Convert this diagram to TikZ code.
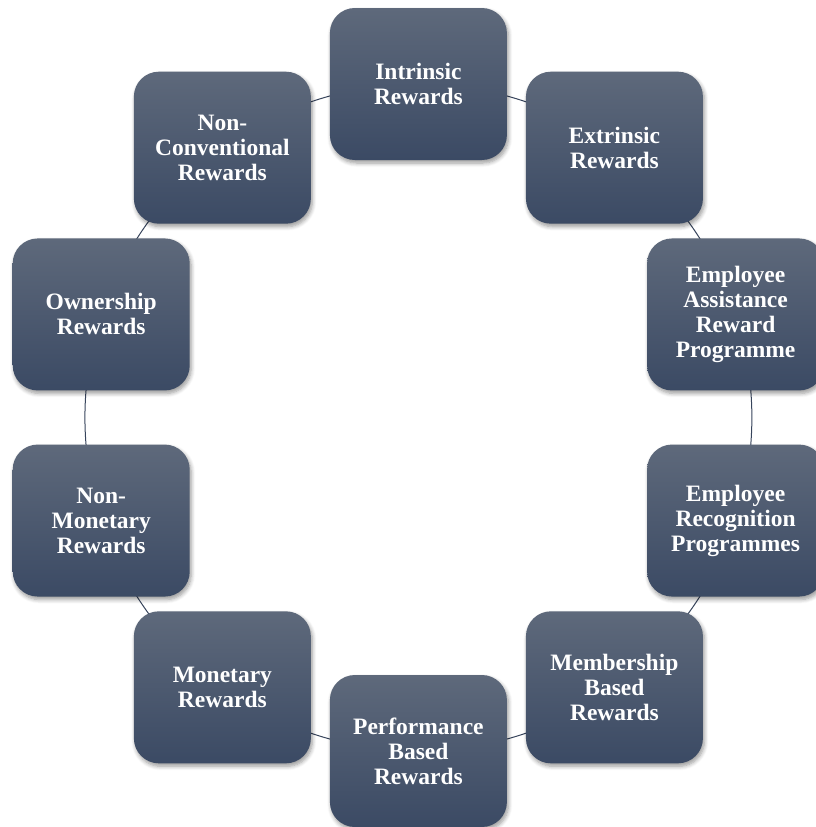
\documentclass[tikz,border=0pt]{standalone}
\usepackage{fontspec}
\setmainfont{Liberation Serif}
\usetikzlibrary{shadows.blur,backgrounds,calc}
\definecolor{boxtop}{RGB}{94,105,123}
\definecolor{boxmid}{RGB}{66,80,105}
\definecolor{boxbot}{RGB}{59,74,100}
\definecolor{linecol}{RGB}{55,68,92}
\tikzset{
  rbox/.style={rectangle, rounded corners=25pt, minimum width=177pt, minimum height=152pt,
    inner sep=0pt, top color=boxtop, middle color=boxmid, bottom color=boxbot,
    text=white, align=center, font=\fontsize{23.5}{25}\selectfont\bfseries,
    blur shadow={shadow xshift=1.5pt, shadow yshift=-3pt, shadow blur radius=4pt, shadow blur steps=6, shadow opacity=40}},
  conn/.style={draw=linecol, line width=1pt, bend left=18, looseness=0.874}
}
\begin{document}
\begin{tikzpicture}[x=1pt,y=1pt]
\useasboundingbox (0,0) rectangle (816,-827);
\coordinate (c) at (418.4,-417.5);
\node[rbox] (n1) at ($(c)+(90:333.5)$) {Intrinsic\\Rewards};
\node[rbox] (n2) at ($(c)+(54:333.5)$) {Extrinsic\\Rewards};
\node[rbox] (n3) at ($(c)+(18:333.5)$) {Employee\\Assistance\\Reward\\Programme};
\node[rbox] (n4) at ($(c)+(-18:333.5)$) {Employee\\Recognition\\Programmes};
\node[rbox] (n5) at ($(c)+(-54:333.5)$) {Membership\\Based\\Rewards};
\node[rbox] (n6) at ($(c)+(-90:333.5)$) {Performance\\Based\\Rewards};
\node[rbox] (n7) at ($(c)+(-126:333.5)$) {Monetary\\Rewards};
\node[rbox] (n8) at ($(c)+(-162:333.5)$) {Non-\\Monetary\\Rewards};
\node[rbox] (n9) at ($(c)+(162:333.5)$) {Ownership\\Rewards};
\node[rbox] (n10) at ($(c)+(126:333.5)$) {Non-\\Conventional\\Rewards};
\begin{scope}[on background layer]
\draw[conn] (n1.center) to (n2.center);
\draw[conn] (n2.center) to (n3.center);
\draw[conn] (n3.center) to (n4.center);
\draw[conn] (n4.center) to (n5.center);
\draw[conn] (n5.center) to (n6.center);
\draw[conn] (n6.center) to (n7.center);
\draw[conn] (n7.center) to (n8.center);
\draw[conn] (n8.center) to (n9.center);
\draw[conn] (n9.center) to (n10.center);
\draw[conn] (n10.center) to (n1.center);
\end{scope}
\end{tikzpicture}
\end{document}
